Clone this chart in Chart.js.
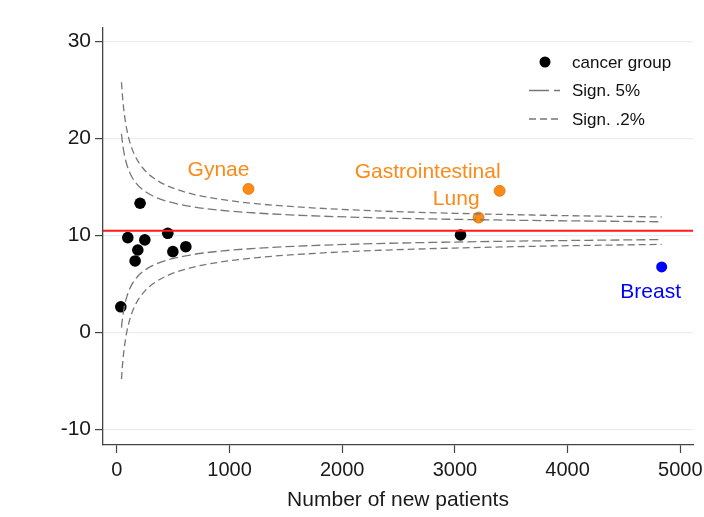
<!DOCTYPE html>
<html>
<head>
<meta charset="utf-8">
<script src="https://cdn.jsdelivr.net/npm/chart.js@4"></script>
<style>
  html, body { margin: 0; padding: 0; background: #fff; }
  #wrap { width: 704px; height: 517px; }
</style>
</head>
<body>
<div id="wrap"><canvas id="chart"></canvas></div>
<script>
// cancer groups inside the limits (new patients, rate %)
const groupN = [35, 97, 248, 452, 186, 497, 612, 162, 206, 3050];
const groupRate = [2.65, 9.78, 9.55, 10.23, 8.51, 8.34, 8.85, 7.38, 13.33, 10.06];

// groups flagged above / below
const highNames = ['Gynae', 'Gastrointestinal', 'Lung'];
const highN = [1168, 3397, 3210];
const highRate = [14.81, 14.61, 11.85];

const lowNames = ['Breast'];
const lowN = [4835];
const lowRate = [6.76];

const meanRate = 10.5;

// funnel limits
const funnelN = [41, 48, 55, 65, 80, 100, 130, 170, 230, 320, 450, 650, 900, 1250, 1700, 2300, 3000, 3800, 4835];
const upper5 = [20.50, 19.74, 19.13, 18.44, 17.66, 16.90, 16.11, 15.41, 14.72, 14.08, 13.52, 13.01, 12.63, 12.31, 12.05, 11.83, 11.67, 11.54, 11.42];
const lower5 = [0.50, 1.26, 1.87, 2.56, 3.34, 4.10, 4.89, 5.59, 6.28, 6.92, 7.48, 7.99, 8.37, 8.69, 8.95, 9.17, 9.33, 9.46, 9.58];
const upper02 = [25.81, 24.65, 23.71, 22.66, 21.46, 20.30, 19.09, 18.02, 16.96, 15.98, 15.12, 14.34, 13.77, 13.27, 12.88, 12.54, 12.29, 12.09, 11.91];
const lower02 = [-4.81, -3.65, -2.71, -1.66, -0.46, 0.70, 1.91, 2.98, 4.04, 5.02, 5.88, 6.66, 7.23, 7.73, 8.12, 8.46, 8.71, 8.91, 9.09];

const xTicks = [0, 1000, 2000, 3000, 4000, 5000];
const yTicks = [-10, 0, 10, 20, 30];
const xMin = -123, xMax = 5113;
const yMin = -11.6, yMax = 31.4;

const FONT = '"Liberation Sans", Arial, sans-serif';
const ORANGE = '#fb8a17';
const BLUE = '#0000ff';
const GREY = '#777';

const pts = (xs, ys) => xs.map((x, i) => ({ x: x, y: ys[i] }));

const curve = (ys, dash) => ({
    type: 'line',
    data: pts(funnelN, ys),
    borderColor: GREY,
    borderWidth: 1.3,
    borderDash: dash,
    pointRadius: 0,
    fill: false,
    cubicInterpolationMode: 'monotone'
});

// names next to the flagged points
const pointLabels = {
    id: 'pointLabels',
    afterDatasetsDraw(chart) {
        const ctx = chart.ctx;
        chart.data.datasets.forEach((ds, i) => {
            if (!ds.names) return;
            const meta = chart.getDatasetMeta(i);
            ctx.save();
            ctx.font = '21px ' + FONT;
            ctx.fillStyle = ds.backgroundColor;
            ctx.textBaseline = 'alphabetic';
            meta.data.forEach((pt, j) => {
                if (ds.labelBelow) {
                    ctx.textAlign = 'center';
                    ctx.fillText(ds.names[j], pt.x - 11, pt.y + 31);
                } else {
                    ctx.textAlign = 'right';
                    ctx.fillText(ds.names[j], pt.x + 1, pt.y - 13);
                }
            });
            ctx.restore();
        });
    }
};

// legend in the top right corner of the plot
const insideLegend = {
    id: 'insideLegend',
    afterDraw(chart) {
        const ctx = chart.ctx;
        const rows = [
            { text: 'cancer group', kind: 'dot' },
            { text: 'Sign. 5%', kind: 'line', dash: [20, 5] },
            { text: 'Sign. .2%', kind: 'line', dash: [7, 4] }
        ];
        ctx.save();
        ctx.font = '17px ' + FONT;
        ctx.textBaseline = 'middle';
        ctx.textAlign = 'left';
        rows.forEach((r, i) => {
            const y = 62 + i * 28.5;
            if (r.kind === 'dot') {
                ctx.fillStyle = '#000';
                ctx.beginPath();
                ctx.arc(545, y, 5.5, 0, Math.PI * 2);
                ctx.fill();
            } else {
                ctx.strokeStyle = GREY;
                ctx.lineWidth = 1.3;
                ctx.setLineDash(r.dash);
                ctx.beginPath();
                ctx.moveTo(529, y);
                ctx.lineTo(560, y);
                ctx.stroke();
                ctx.setLineDash([]);
            }
            ctx.fillStyle = '#111';
            ctx.fillText(r.text, 572, y + 1);
        });
        ctx.restore();
    }
};

new Chart(document.getElementById('chart'), {
    type: 'scatter',
    data: {
        datasets: [
            curve(upper5, [9, 4]),
            curve(lower5, [9, 4]),
            curve(upper02, [7, 4]),
            curve(lower02, [7, 4]),
            {
                type: 'line',
                data: [{ x: xMin, y: meanRate }, { x: xMax, y: meanRate }],
                borderColor: '#ff1a1a',
                borderWidth: 2,
                pointRadius: 0
            },
            {
                data: pts(groupN, groupRate),
                backgroundColor: '#000',
                borderWidth: 0,
                pointRadius: 5.8
            },
            {
                data: pts(highN, highRate),
                names: highNames,
                backgroundColor: ORANGE,
                borderColor: '#e07410',
                borderWidth: 0.8,
                pointRadius: 5.5
            },
            {
                data: pts(lowN, lowRate),
                names: lowNames,
                labelBelow: true,
                backgroundColor: BLUE,
                borderWidth: 0,
                pointRadius: 5.5
            }
        ]
    },
    options: {
        responsive: true,
        maintainAspectRatio: false,
        animation: false,
        devicePixelRatio: 1,
        layout: {
            padding: { left: 0, right: 11, top: 28, bottom: 0 }
        },
        plugins: {
            legend: { display: false },
            tooltip: { enabled: false }
        },
        scales: {
            x: {
                type: 'linear',
                min: xMin,
                max: xMax,
                afterBuildTicks: (axis) => { axis.ticks = xTicks.map(v => ({ value: v })); },
                afterFit: (axis) => {
                    axis.height = 72;
                    axis.paddingLeft = 0;
                    axis.paddingRight = 0;
                },
                ticks: {
                    color: '#1a1a1a',
                    font: { family: FONT, size: 20 },
                    padding: 5,
                    maxRotation: 0,
                    autoSkip: false,
                    callback: (v) => String(v)
                },
                grid: {
                    drawOnChartArea: false,
                    tickLength: 8,
                    tickColor: '#444',
                    tickWidth: 1.2
                },
                border: { color: '#444', width: 1.3 },
                title: {
                    display: true,
                    text: 'Number of new patients',
                    color: '#1a1a1a',
                    font: { family: FONT, size: 21 },
                    padding: { top: 0, bottom: 4 }
                }
            },
            y: {
                type: 'linear',
                min: yMin,
                max: yMax,
                afterBuildTicks: (axis) => { axis.ticks = yTicks.map(v => ({ value: v })); },
                afterFit: (axis) => { axis.width = 103; },
                ticks: {
                    color: '#1a1a1a',
                    font: { family: FONT, size: 21 },
                    padding: 4
                },
                grid: {
                    color: '#e6eef1',
                    lineWidth: 1.2,
                    tickLength: 8,
                    tickColor: '#444',
                    tickWidth: 1.2
                },
                border: { color: '#444', width: 1.3 }
            }
        }
    },
    plugins: [pointLabels, insideLegend]
});
</script>
</body>
</html>
